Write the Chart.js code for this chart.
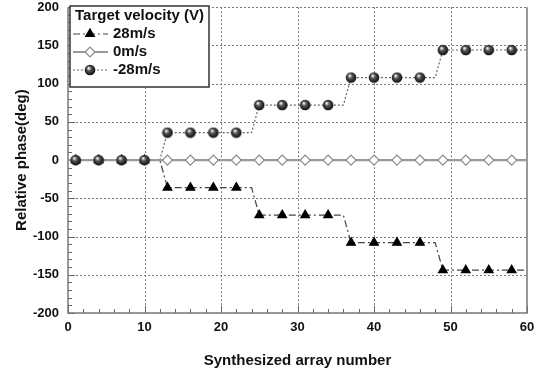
<!DOCTYPE html>
<html lang="en">

<head>
  <meta charset="UTF-8">
  <title>Relative phase vs synthesized array number</title>
  <script src="https://cdn.jsdelivr.net/npm/chart.js"></script>
  <style>
    html, body { margin: 0; padding: 0; background: #fff; }
    #wrap { width: 535px; height: 370px; }
  </style>
</head>

<body>
  <div id="wrap"><canvas id="phaseChart"></canvas></div>

  <script>
    // marker positions (every third synthesized array)
    const markerX = [1, 4, 7, 10, 13, 16, 19, 22, 25, 28, 31, 34, 37, 40, 43, 46, 49, 52, 55, 58];
    const phase28 = [0, 0, 0, 0, -36, -36, -36, -36, -72, -72, -72, -72, -108, -108, -108, -108, -144, -144, -144, -144];
    const phase0 = [0, 0, 0, 0, 0, 0, 0, 0, 0, 0, 0, 0, 0, 0, 0, 0, 0, 0, 0, 0];
    const phaseM28 = [0, 0, 0, 0, 36, 36, 36, 36, 72, 72, 72, 72, 108, 108, 108, 108, 144, 144, 144, 144];

    // the connecting lines step between arrays 12 and 13, 24 and 25 ...
    const stepX = [1, 12, 13, 24, 25, 36, 37, 48, 49, 60];
    const step28 = [0, 0, -36, -36, -72, -72, -108, -108, -144, -144];
    const stepM28 = [0, 0, 36, 36, 72, 72, 108, 108, 144, 144];
    const step0X = [0, 60];
    const step0 = [0, 0];

    const xTicks = [0, 10, 20, 30, 40, 50, 60];
    const yTicks = [-200, -150, -100, -50, 0, 50, 100, 150, 200];

    const seriesNames = ['28m/s', '0m/s', '-28m/s'];
    const legendTitle = 'Target velocity (V)';

    const FONT = "'Liberation Sans', Arial, sans-serif";
    const pts = (xs, ys) => xs.map((x, i) => ({ x: x, y: ys[i] }));

    // shaded ball marker for -28m/s
    const ball = document.createElement('canvas');
    ball.width = 12; ball.height = 12;
    (function () {
      const c = ball.getContext('2d');
      const g = c.createRadialGradient(4.5, 4, 0.3, 6, 6, 6);
      g.addColorStop(0, '#ffffff');
      g.addColorStop(0.35, '#555555');
      g.addColorStop(1, '#000000');
      c.fillStyle = g;
      c.beginPath();
      c.arc(6, 6, 5.3, 0, Math.PI * 2);
      c.fill();
    })();

    const styles = [
      { color: '#444', dash: [7, 3, 2, 3], width: 1.2, point: 'triangle', fill: '#000', border: '#000', radius: 5 },
      { color: '#999', dash: [], width: 2.2, point: 'rectRot', fill: '#fff', border: '#888', radius: 5 },
      { color: '#666', dash: [2, 2], width: 1.2, point: ball, fill: '#000', border: '#000', radius: 6 }
    ];

    // frame, dotted grid, inward ticks and the boxed legend
    const framePlugin = {
      id: 'frame',
      beforeDatasetsDraw(chart) {
        const { ctx, chartArea: a, scales: { x, y } } = chart;
        ctx.save();
        ctx.strokeStyle = '#777';
        ctx.lineWidth = 1;
        ctx.setLineDash([2, 2]);
        xTicks.forEach(v => {
          if (v <= 0 || v >= 60) return;
          const px = Math.round(x.getPixelForValue(v)) + 0.5;
          ctx.beginPath(); ctx.moveTo(px, a.top); ctx.lineTo(px, a.bottom); ctx.stroke();
        });
        yTicks.forEach(v => {
          if (v <= -200) return;
          const py = Math.round(y.getPixelForValue(v)) + 0.5;
          ctx.beginPath(); ctx.moveTo(a.left, py); ctx.lineTo(a.right, py); ctx.stroke();
        });
        ctx.setLineDash([]);
        ctx.strokeStyle = '#666';
        ctx.lineWidth = 1;
        for (let v = 0; v <= 60; v += 2) {
          const px = Math.round(x.getPixelForValue(v)) + 0.5;
          const len = v % 10 === 0 ? 7 : 4;
          ctx.beginPath(); ctx.moveTo(px, a.bottom); ctx.lineTo(px, a.bottom - len); ctx.stroke();
        }
        for (let v = -200; v <= 200; v += 10) {
          const py = Math.round(y.getPixelForValue(v)) + 0.5;
          const len = v % 50 === 0 ? 7 : 4;
          ctx.beginPath(); ctx.moveTo(a.left, py); ctx.lineTo(a.left + len, py); ctx.stroke();
        }
        ctx.strokeStyle = '#777';
        ctx.lineWidth = 1.5;
        ctx.beginPath();
        ctx.moveTo(a.left, a.top);
        ctx.lineTo(a.left, a.bottom);
        ctx.lineTo(a.right, a.bottom);
        ctx.lineTo(a.right, a.top);
        ctx.stroke();
        ctx.restore();
      },
      afterDraw(chart) {
        const { ctx } = chart;
        const bx = 70, by = 6, bw = 139, bh = 81;
        ctx.save();
        ctx.fillStyle = '#fff';
        ctx.fillRect(bx, by, bw, bh);
        ctx.strokeStyle = '#333';
        ctx.lineWidth = 1.5;
        ctx.strokeRect(bx, by, bw, bh);
        ctx.fillStyle = '#111';
        ctx.font = 'bold 15px ' + FONT;
        ctx.textBaseline = 'middle';
        ctx.textAlign = 'left';
        ctx.fillText(legendTitle, bx + 5, by + 10);
        seriesNames.forEach((name, i) => {
          const s = styles[i];
          const cy = by + 28 + i * 18;
          ctx.strokeStyle = s.color;
          ctx.lineWidth = s.width;
          ctx.setLineDash(s.dash);
          ctx.beginPath(); ctx.moveTo(bx + 3, cy); ctx.lineTo(bx + 38, cy); ctx.stroke();
          ctx.setLineDash([]);
          ctx.fillStyle = s.fill;
          ctx.strokeStyle = s.border;
          ctx.lineWidth = 1.2;
          Chart.helpers.drawPoint(ctx, { pointStyle: s.point, radius: s.radius, rotation: 0, borderWidth: 1.2 }, bx + 20, cy);
          ctx.fillStyle = '#111';
          ctx.fillText(name, bx + 43, cy);
        });
        ctx.restore();
      }
    };

    const lineSet = (data, s, order) => ({
      data: data, showLine: true, pointRadius: 0, borderColor: s.color,
      borderWidth: s.width, borderDash: s.dash, tension: 0, order: order
    });
    const markerSet = (data, s, order) => ({
      data: data, showLine: false, pointStyle: s.point, pointRadius: s.radius,
      pointBackgroundColor: s.fill, pointBorderColor: s.border, pointBorderWidth: 1.2, order: order
    });

    new Chart(document.getElementById('phaseChart'), {
      type: 'scatter',
      data: {
        datasets: [
          markerSet(pts(markerX, phase0), styles[1], 2),
          markerSet(pts(markerX, phase28), styles[0], 1),
          markerSet(pts(markerX, phaseM28), styles[2], 0),
          lineSet(pts(step0X, step0), styles[1], 3),
          lineSet(pts(stepX, step28), styles[0], 4),
          lineSet(pts(stepX, stepM28), styles[2], 5)
        ]
      },
      plugins: [framePlugin],
      options: {
        responsive: true,
        maintainAspectRatio: false,
        animation: false,
        layout: { padding: { top: 5, right: 8, left: 0, bottom: 0 } },
        plugins: { legend: { display: false }, tooltip: { enabled: false } },
        scales: {
          x: {
            type: 'linear', min: 0, max: 60,
            afterBuildTicks: s => { s.ticks = xTicks.map(v => ({ value: v })); },
            afterFit: s => { s.height = 57; s.paddingLeft = 0; s.paddingRight = 0; },
            grid: { display: false, drawTicks: false },
            border: { display: false },
            ticks: { color: '#111', padding: 7, font: { family: FONT, size: 13, weight: 'bold' } },
            title: { display: true, text: 'Synthesized array number', color: '#111', padding: { top: 10, bottom: 0 }, font: { family: FONT, size: 15, weight: 'bold' } }
          },
          y: {
            type: 'linear', min: -200, max: 200,
            afterBuildTicks: s => { s.ticks = yTicks.map(v => ({ value: v })); },
            afterFit: s => { s.width = 68; s.paddingTop = 0; s.paddingBottom = 0; },
            grid: { display: false, drawTicks: false },
            border: { display: false },
            ticks: { color: '#111', padding: 9, font: { family: FONT, size: 13, weight: 'bold' } },
            title: { display: true, text: 'Relative phase(deg)', color: '#111', padding: { top: 13, bottom: 0 }, font: { family: FONT, size: 15, weight: 'bold' } }
          }
        }
      }
    });
  </script>
</body>

</html>
